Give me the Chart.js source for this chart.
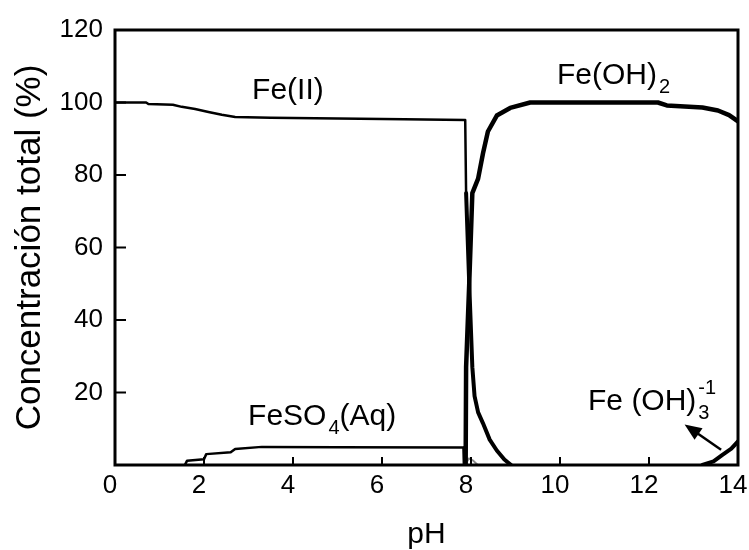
<!DOCTYPE html>
<html>
<head>
<meta charset="utf-8">
<script src="https://cdn.jsdelivr.net/npm/chart.js@4/dist/chart.umd.min.js"></script>
<style>
  html, body { margin: 0; padding: 0; background: #fff; }
  #wrap { width: 749px; height: 550px; }
</style>
</head>
<body>
<div id="wrap"><canvas id="chart" width="749" height="550"></canvas></div>
<script>
// pH axis and concentration ticks
const xTicks = [0, 2, 4, 6, 8, 10, 12, 14];
const yTicks = [0, 20, 40, 60, 80, 100, 120];

// Fe(II)
const feIIpH  = [0, 0.7, 0.75, 1.3, 1.5, 1.8, 2.1, 2.4, 2.7, 3.5, 5.0, 6.5, 7.87, 7.89, 7.96, 8.03, 8.08, 8.16, 8.27, 8.42, 8.58, 8.75, 8.9];
const feIIpct = [100, 100, 99.6, 99.4, 98.8, 98.2, 97.4, 96.6, 96.0, 95.8, 95.6, 95.4, 95.2, 75, 50, 27, 19, 14.5, 11.5, 7, 4, 1.5, 0];

// Fe(OH)2
const feOH2pH  = [7.88, 7.89, 7.96, 8.03, 8.16, 8.27, 8.38, 8.58, 8.88, 9.33, 12.2, 12.4, 13.2, 13.55, 13.8, 14];
const feOH2pct = [0, 27, 50, 75, 79, 86, 92, 96.4, 98.5, 100, 100, 99.2, 98.6, 97.8, 96.5, 94.8];

// FeSO4(Aq)
const feSO4pH  = [1.57, 1.62, 2.0, 2.05, 2.6, 2.7, 3.3, 5.0, 7.83, 7.84];
const feSO4pct = [0, 1.2, 1.6, 3.0, 3.5, 4.4, 5.0, 4.9, 4.8, 0];

// Fe(OH)3^-1
const feOH3pH  = [13.2, 13.45, 13.65, 13.85, 14];
const feOH3pct = [0, 1.0, 2.8, 4.5, 6.5];

// minor species near pH 8
const minorpH  = [7.88, 7.95, 8.05, 8.15];
const minorpct = [0.3, 1.8, 1.2, 0];

const pts = (xs, ys) => xs.map((x, i) => ({ x, y: ys[i] }));

const FONT = '"Liberation Sans", Arial, sans-serif';
const INK = '#000';

// species labels, anchored in data units (pH, %)
const labels = [
  { text: 'Fe(II)', x: 3.08, y: 101 },
  { text: 'Fe(OH)', x: 9.93, y: 105.1, sub: '2' },
  { text: 'FeSO', x: 2.99, y: 11.0, sub: '4', after: '(Aq)' },
  { text: 'Fe (OH)', x: 10.63, y: 15.2, sub: '3', sup: '-1' }
];
// arrow from Fe(OH)3 curve toward its label
const arrowFrom = { x: 13.62, y: 4.2 };
const arrowTo = { x: 12.8, y: 11.2 };

const framePlugin = {
  id: 'frame',
  afterDatasetsDraw(chart) {
    const { ctx, chartArea: a, scales: { x, y } } = chart;
    ctx.save();
    ctx.strokeStyle = INK;
    ctx.lineWidth = 2;
    // inward tick marks
    ctx.beginPath();
    yTicks.slice(1, -1).forEach(v => {
      const py = y.getPixelForValue(v);
      ctx.moveTo(a.left, py);
      ctx.lineTo(a.left + 11, py);
    });
    xTicks.slice(1, -1).forEach(v => {
      const px = x.getPixelForValue(v);
      ctx.moveTo(px, a.bottom);
      ctx.lineTo(px, a.bottom - 8);
    });
    ctx.stroke();
    // box
    ctx.lineWidth = 3;
    ctx.strokeRect(a.left, a.top, a.right - a.left, a.bottom - a.top);

    // labels
    ctx.fillStyle = INK;
    ctx.textBaseline = 'alphabetic';
    ctx.textAlign = 'left';
    labels.forEach(l => {
      const px = x.getPixelForValue(l.x);
      const py = y.getPixelForValue(l.y);
      ctx.font = '30px ' + FONT;
      ctx.fillText(l.text, px, py);
      let cx = px + ctx.measureText(l.text).width + 2;
      ctx.font = '20px ' + FONT;
      let w = 0;
      if (l.sub) {
        ctx.fillText(l.sub, cx, py + 9);
        w = ctx.measureText(l.sub).width;
      }
      if (l.sup) {
        ctx.fillText(l.sup, cx, py - 16);
        w = Math.max(w, ctx.measureText(l.sup).width);
      }
      if (l.after) {
        ctx.font = '30px ' + FONT;
        ctx.fillText(l.after, cx + w, py);
      }
    });

    // arrow
    const x0 = x.getPixelForValue(arrowFrom.x), y0 = y.getPixelForValue(arrowFrom.y);
    const x1 = x.getPixelForValue(arrowTo.x), y1 = y.getPixelForValue(arrowTo.y);
    const ang = Math.atan2(y1 - y0, x1 - x0);
    ctx.lineWidth = 2.5;
    ctx.beginPath();
    ctx.moveTo(x0, y0);
    ctx.lineTo(x1 - 12 * Math.cos(ang), y1 - 12 * Math.sin(ang));
    ctx.stroke();
    ctx.beginPath();
    ctx.moveTo(x1, y1);
    ctx.lineTo(x1 - 17 * Math.cos(ang) + 7 * Math.sin(ang), y1 - 17 * Math.sin(ang) - 7 * Math.cos(ang));
    ctx.lineTo(x1 - 17 * Math.cos(ang) - 7 * Math.sin(ang), y1 - 17 * Math.sin(ang) + 7 * Math.cos(ang));
    ctx.closePath();
    ctx.fill();
    ctx.restore();
  }
};

const line = (data, width, color) => ({
  data,
  borderColor: color || INK,
  borderWidth: width,
  pointRadius: 0,
  fill: false,
  tension: 0,
  showLine: true,
  borderJoinStyle: 'round',
  borderCapStyle: 'round'
});

const feIIset = line(pts(feIIpH, feIIpct), 2.5);
// the drop after pH 7.9 is drawn heavier
feIIset.segment = { borderWidth: c => (c.p0.parsed.x >= 7.88 ? 4 : 2.5) };

new Chart(document.getElementById('chart'), {
  type: 'scatter',
  data: {
    datasets: [
      feIIset,
      line(pts(feOH2pH, feOH2pct), 4.5),
      line(pts(feSO4pH, feSO4pct), 2.5),
      line(pts(feOH3pH, feOH3pct), 4),
      line(pts(minorpH, minorpct), 2, '#888')
    ]
  },
  options: {
    responsive: false,
    animation: false,
    layout: { padding: { top: 30, right: 11, left: 0, bottom: 0 } },
    plugins: { legend: { display: false }, tooltip: { enabled: false } },
    scales: {
      x: {
        type: 'linear',
        min: 0, max: 14,
        afterBuildTicks: s => { s.ticks = xTicks.map(v => ({ value: v })); },
        ticks: { font: { family: FONT, size: 26 }, color: INK, padding: 5, labelOffset: -5, maxRotation: 0, autoSkip: false },
        grid: { display: false, drawTicks: false },
        border: { display: false },
        title: { display: true, text: 'pH', color: INK, font: { family: FONT, size: 30, lineHeight: 1 }, padding: 0 },
        afterFit: s => { s.height = 85; s.paddingLeft = 0; s.paddingRight = 0; }
      },
      y: {
        min: 0, max: 120,
        afterBuildTicks: s => { s.ticks = yTicks.map(v => ({ value: v })); },
        ticks: { font: { family: FONT, size: 26 }, color: INK, padding: 12, callback: v => (v === 0 ? '' : v) },
        grid: { display: false, drawTicks: false },
        border: { display: false },
        title: { display: true, text: 'Concentración total (%)', color: INK, font: { family: FONT, size: 35 }, padding: { top: 9, bottom: 0 } },
        afterFit: s => { s.width = 115; }
      }
    }
  },
  plugins: [framePlugin]
});
</script>
</body>
</html>
